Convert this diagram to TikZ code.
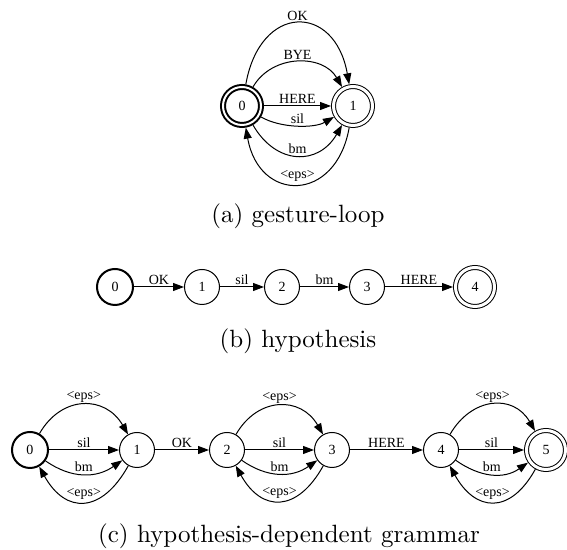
\documentclass[tikz,border=0pt]{standalone}
\usepackage{fontspec}
\newfontfamily\gvfamily{Liberation Serif}
\usetikzlibrary{arrows.meta}
\newcommand{\gvfont}{\gvfamily\fontsize{5.6pt}{6pt}\selectfont}
\tikzset{
  st/.style={circle, draw, line width=0.4pt, minimum size=14pt, inner sep=0pt, font=\gvfont},
  stb/.style={st, line width=0.8pt, minimum size=14.4pt},
  acc/.style={st, double, double distance=1.2pt, minimum size=15.6pt, outer sep=1pt},
  accb/.style={st, line width=0.8pt, double, double distance=0.8pt, minimum size=15.2pt, outer sep=1.2pt},
  e/.style={-{Triangle[length=4.4pt,width=3.2pt]}, line width=0.4pt},
  lb/.style={above, inner sep=0.7pt, font=\gvfont},
  subcap/.style={anchor=base, font=\fontsize{10pt}{12pt}\selectfont}
}
\begin{document}
\begin{tikzpicture}[x=0.4pt,y=0.4pt]
\useasboundingbox (0,0) rectangle (567,-550);

% (a) gesture loop
\node[accb] (a0) at (242,-106) {0};
\node[acc]  (a1) at (353,-106) {1};
\draw[e] (a0) to[out=80,in=100,looseness=2.05] node[lb]{OK} (a1);
\draw[e] (a0) to[out=60,in=120,looseness=1.1] node[lb]{BYE} (a1);
\draw[e] (a0) -- node[lb]{HERE} (a1);
\draw[e] (a0) to[out=-30,in=-150,looseness=0.8] node[lb]{sil} (a1);
\draw[e] (a0) to[out=-60,in=-120,looseness=1.35] node[lb]{bm} (a1);
\draw[e] (a1) to[out=-100,in=-80,looseness=1.9] node[lb]{<eps>} (a0);
\node[subcap] (capa) at (298,-223) {(a) gesture-loop};

% (b) hypothesis
\node[stb] (b0) at (115,-287) {0};
\node[st]  (b1) at (202,-287) {1};
\node[st]  (b2) at (282,-287) {2};
\node[st]  (b3) at (367,-287) {3};
\node[acc] (b4) at (475,-287) {4};
\draw[e] (b0) -- node[lb]{OK} (b1);
\draw[e] (b1) -- node[lb]{sil} (b2);
\draw[e] (b2) -- node[lb]{bm} (b3);
\draw[e] (b3) -- node[lb]{HERE} (b4);
\node[subcap] (capb) at (298,-348) {(b) hypothesis};

% (c) hypothesis-dependent grammar
\node[stb] (c0) at (30,-450) {0};
\node[st]  (c1) at (137,-450) {1};
\node[st]  (c2) at (227,-450) {2};
\node[st]  (c3) at (332,-450) {3};
\node[st]  (c4) at (441,-450) {4};
\node[acc] (c5) at (546,-450) {5};
\foreach \p/\q in {c0/c1, c2/c3, c4/c5} {
  \draw[e] (\p) to[out=60,in=120,looseness=1.3] node[lb]{<eps>} (\q);
  \draw[e] (\p) -- node[lb]{sil} (\q);
  \draw[e] (\p) to[out=-35,in=-145,looseness=1.05] node[lb]{bm} (\q);
  \draw[e] (\q) to[out=-119,in=-61,looseness=1.57] node[lb]{<eps>} (\p);
}
\draw[e] (c1) -- node[lb]{OK} (c2);
\draw[e] (c3) -- node[lb]{HERE} (c4);
\node[subcap] (capc) at (289,-543) {(c) hypothesis-dependent grammar};
\end{tikzpicture}
\end{document}
